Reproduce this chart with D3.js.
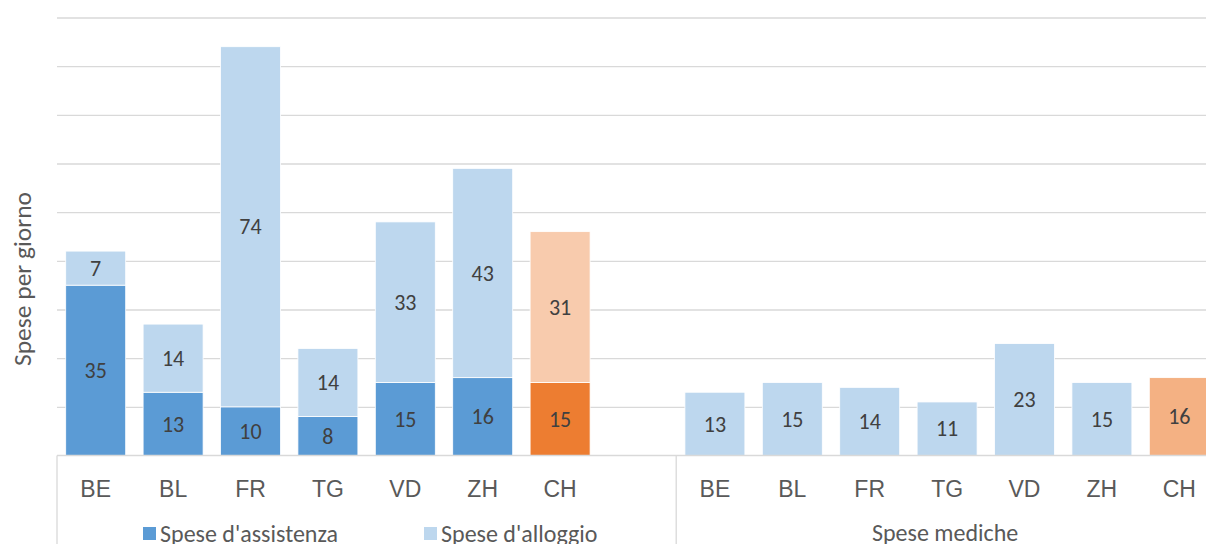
<!DOCTYPE html>
<html>
<head>
<meta charset="utf-8">
<script src="https://cdn.jsdelivr.net/npm/d3@7"></script>
<style>
  html, body { margin: 0; padding: 0; background: #fff; }
  svg { display: block; font-family: Carlito, Calibri, Lato, "Open Sans", sans-serif; }
</style>
</head>
<body>
<svg id="chart" width="1206" height="544"></svg>
<script>
// ---- data ----
const cantons = ["BE", "BL", "FR", "TG", "VD", "ZH", "CH"];
const assistenza = [35, 13, 10, 8, 15, 16, 15];
const alloggio = [7, 14, 74, 14, 33, 43, 31];
const mediche = [13, 15, 14, 11, 23, 15, 16];
const groupLabels = ["", "Spese mediche"];
const seriesNames = ["Spese d'assistenza", "Spese d'alloggio"];
const yTicks = [0, 10, 20, 30, 40, 50, 60, 70, 80, 90];
const yTitle = "Spese per giorno";

// ---- colours ----
const cDark = "#5B9BD5", cLight = "#BDD7EE";
const cOrange = "#ED7D31", cOrangeLight = "#F8CBAD", cOrangeMed = "#F4B183";

const svg = d3.select("#chart");
const left = 57, step = 77.4;
const slotsA = cantons.length + 1, slotsM = cantons.length;
const right = left + (slotsA + slotsM) * step;
const y0 = 455.5, yTop = 17.5;

// category domain: group A (with empty slot) + group M
const catA = cantons.map(c => "A-" + c).concat(["A-_"]);
const catM = cantons.map(c => "M-" + c);
const x = d3.scaleBand().domain(catA.concat(catM)).range([left, right]).paddingInner(0.225).paddingOuter(0.1125);
const y = d3.scaleLinear().domain([0, 90]).range([y0, yTop]);

// gridlines
const grid = svg.append("g").attr("transform", `translate(${left},0)`)
  .call(d3.axisLeft(y).tickValues(yTicks.slice(1)).tickSize(-(right - left)).tickFormat(""));
grid.select(".domain").remove();
grid.selectAll("line").attr("stroke", "#d9d9d9").attr("stroke-width", 1.3);

// bars: stacked group A
const rowsA = cantons.map((c, i) => ({ key: "A-" + c, c, a: assistenza[i], b: alloggio[i], isCH: c === "CH" }));
const gA = svg.append("g");
gA.selectAll("rect.as").data(rowsA).join("rect")
  .attr("x", d => x(d.key)).attr("width", x.bandwidth())
  .attr("y", d => y(d.a)).attr("height", d => y(0) - y(d.a))
  .attr("fill", d => d.isCH ? cOrange : cDark)
  .attr("stroke", "#fff").attr("stroke-width", 0.8);
gA.selectAll("rect.al").data(rowsA).join("rect")
  .attr("x", d => x(d.key)).attr("width", x.bandwidth())
  .attr("y", d => y(d.a + d.b)).attr("height", d => y(d.a) - y(d.a + d.b))
  .attr("fill", d => d.isCH ? cOrangeLight : cLight)
  .attr("stroke", "#fff").attr("stroke-width", 0.8);

// medical bars
const rowsM = cantons.map((c, i) => ({ key: "M-" + c, c, v: mediche[i], isCH: c === "CH" }));
svg.append("g").selectAll("rect").data(rowsM).join("rect")
  .attr("x", d => x(d.key)).attr("width", x.bandwidth())
  .attr("y", d => y(d.v)).attr("height", d => y(0) - y(d.v))
  .attr("fill", d => d.isCH ? cOrangeMed : cLight)
  .attr("stroke", "#fff").attr("stroke-width", 0.8);

// data labels
const fsVal = 22, fsTick = 23, fsLeg = 24, fsTitle = 25.5;
const labels = [];
rowsA.forEach(d => {
  labels.push({ key: d.key, v: d.a, mid: d.a / 2 });
  labels.push({ key: d.key, v: d.b, mid: d.a + d.b / 2 });
});
rowsM.forEach(d => labels.push({ key: d.key, v: d.v, mid: d.v / 2 }));
svg.append("g").selectAll("text").data(labels).join("text")
  .attr("x", d => x(d.key) + x.bandwidth() / 2)
  .attr("y", d => y(d.mid))
  .attr("dy", "0.35em")
  .attr("text-anchor", "middle")
  .attr("font-size", fsVal).attr("fill", "#404040")
  .text(d => d.v);

// baseline and category axis
svg.append("line").attr("x1", left).attr("x2", right).attr("y1", y0).attr("y2", y0)
  .attr("stroke", "#d9d9d9").attr("stroke-width", 1.3);
const xAxis = svg.append("g").attr("transform", `translate(0,${y0})`)
  .call(d3.axisBottom(x).tickSize(0).tickFormat(k => k.endsWith("_") ? "" : k.slice(2)));
xAxis.select(".domain").remove();
xAxis.selectAll("text").attr("font-size", fsTick).attr("fill", "#595959")
  .attr("font-family", null).attr("y", 33).attr("dy", "0.35em");

// group separators
const seps = [left, left + slotsA * step, right];
svg.append("g").selectAll("line").data(seps).join("line")
  .attr("x1", d => d).attr("x2", d => d).attr("y1", y0).attr("y2", 544)
  .attr("stroke", "#d9d9d9").attr("stroke-width", 1.3);

// group labels
const groupCenters = [(left + left + slotsA * step) / 2, (left + slotsA * step + right) / 2];
svg.append("g").selectAll("text").data(groupLabels).join("text")
  .attr("x", (d, i) => groupCenters[i] - 2).attr("y", 533).attr("dy", "0.35em")
  .attr("text-anchor", "middle").attr("font-size", fsLeg).attr("fill", "#595959")
  .text(d => d);

// legend
const legX = [143, 424];
const leg = svg.append("g").selectAll("g").data(seriesNames).join("g")
  .attr("transform", (d, i) => `translate(${legX[i]},527)`);
leg.append("rect").attr("width", 13).attr("height", 13)
  .attr("fill", (d, i) => i === 0 ? cDark : cLight);
leg.append("text").attr("x", 17).attr("y", 6.5).attr("dy", "0.35em")
  .attr("font-size", fsLeg).attr("fill", "#595959").text(d => d);

// y title
svg.append("text").attr("transform", `translate(22,279) rotate(-90)`)
  .attr("text-anchor", "middle").attr("dy", "0.35em")
  .attr("font-size", fsTitle).attr("fill", "#595959").text(yTitle);
</script>
</body>
</html>
